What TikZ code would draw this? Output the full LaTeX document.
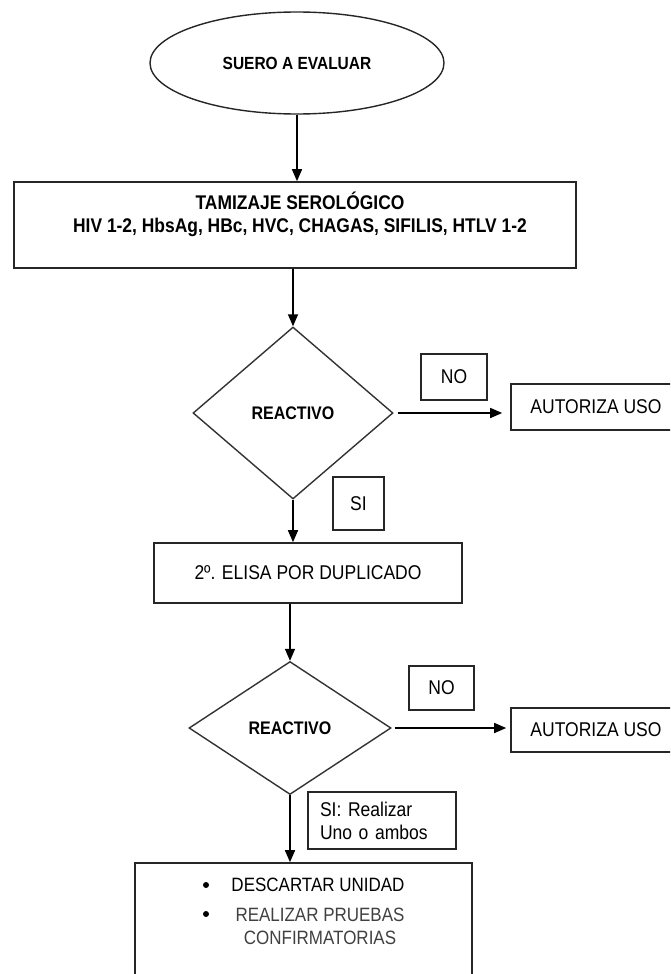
\documentclass[tikz,border=0pt]{standalone}
\usepackage{fontspec}
\setmainfont[FakeStretch=0.88]{Liberation Sans}
\usetikzlibrary{shapes.geometric,arrows.meta,calc}
\begin{document}
\begin{tikzpicture}[x=1pt,y=-1pt,
  box/.style={draw=black!85, line width=1.6pt, rectangle, inner sep=0pt,
    font=\fontsize{19.9}{23}\selectfont},
  dia/.style={draw=black!80, line width=1.4pt, diamond, inner sep=0pt,
    font=\bfseries\fontsize{18.2}{19}\selectfont},
  arr/.style={-{Triangle[length=12pt,width=10pt]}, line width=1.5pt, black},
  txt/.style={inner sep=0pt, align=center, font=\fontsize{19.3}{23}\selectfont},
  dot/.style={circle, fill=black, inner sep=0pt, minimum size=6pt}]
\useasboundingbox (0,0) rectangle (670,974);
\clip (0,0) rectangle (670,974);

\node[ellipse, draw=black!85, line width=1.4pt, minimum width=294pt, minimum height=102pt,
  inner sep=0pt, font=\bfseries\fontsize{17.6}{18}\selectfont] (e) at (297,63) {SUERO A EVALUAR};

\node[box, minimum width=562pt, minimum height=86pt] (b1) at (295,225) {};
\node[txt, font=\bfseries\fontsize{19.8}{23}\selectfont] (b1t) at (300,214)
  {TAMIZAJE SEROLÓGICO\\HIV 1-2, HbsAg, HBc, HVC, CHAGAS, SIFILIS, HTLV 1-2};

\node[dia, minimum width=200pt, minimum height=172pt] (d1) at (293,413) {REACTIVO};
\node[box, minimum width=66pt, minimum height=46pt] (n1) at (454,377) {NO};
\node[box, minimum width=170pt, minimum height=46pt] (a1) at (596,407) {AUTORIZA USO};
\node[box, minimum width=51pt, minimum height=53pt] (s1) at (358.5,503.5) {SI};

\node[box, minimum width=308pt, minimum height=60pt] (b2) at (308,573) {2º. ELISA POR DUPLICADO};

\node[dia, minimum width=202pt, minimum height=133pt] (d2) at (290,728) {REACTIVO};
\node[box, minimum width=65pt, minimum height=44pt] (n2) at (441.5,688) {NO};
\node[box, minimum width=170pt, minimum height=44pt] (a2) at (596,730) {AUTORIZA USO};
\node[box, minimum width=148pt, minimum height=57pt, text width=124pt, inner xsep=12pt,
  align=left] (s2) at (382,820.5) {SI: Realizar\\Uno o ambos};

\node[box, minimum width=337pt, minimum height=137pt] (b3) at (303.5,931.5) {};
\node[dot] (bl1) at (206,885) {};
\node[dot] (bl2) at (206,914) {};
\node[txt] (c1) at (318,885) {DESCARTAR UNIDAD};
\node[txt, text=black!75] (c2) at (320,926) {REALIZAR PRUEBAS\\CONFIRMATORIAS};

\draw[arr] (e.south) -- (e.south |- b1.north);
\draw[arr] (b1.south -| d1.north) -- (d1.north);
\draw[arr] (d1.south) -- (d1.south |- b2.north);
\draw[arr] (b2.south -| d2.north) -- (d2.north);
\draw[arr] (d2.south) -- (d2.south |- b3.north);
\draw[arr, shorten <=4pt, shorten >=8pt] (d1.east) -- (d1.east -| a1.west);
\draw[arr, shorten <=3pt, shorten >=4pt] (d2.east) -- (d2.east -| a2.west);
\end{tikzpicture}
\end{document}
